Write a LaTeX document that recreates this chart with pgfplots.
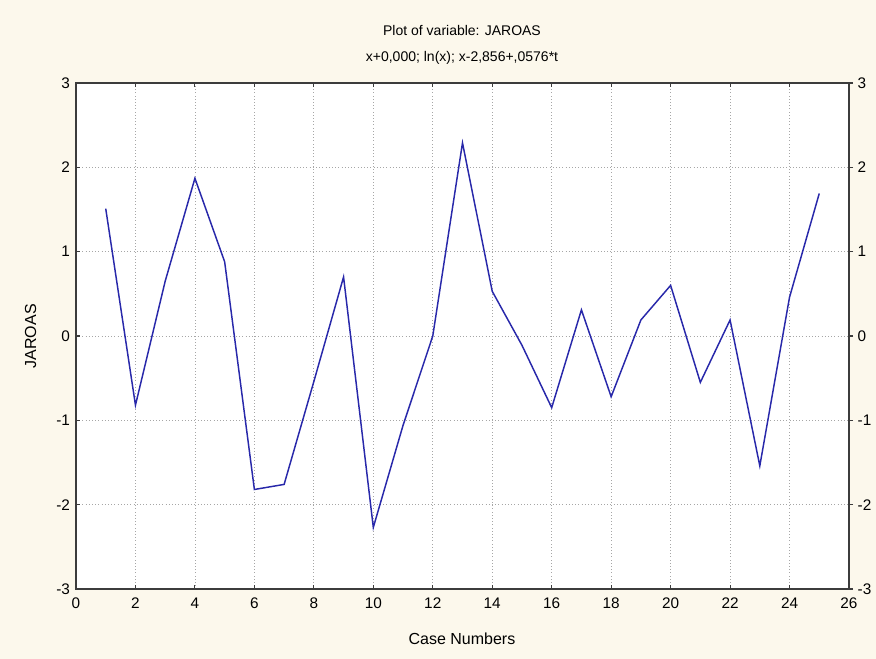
\documentclass[border=0pt]{standalone}
\usepackage{pgfplots}
\pgfplotsset{compat=1.18}
\usepackage{fontspec}
\setmainfont{Liberation Sans}
\definecolor{paper}{RGB}{252,248,236}
\definecolor{lineblue}{RGB}{40,40,170}
\definecolor{frame}{RGB}{60,60,60}

\pgfplotstableread{
case val
1 1.51
2 -0.82
3 0.65
4 1.87
5 0.88
6 -1.82
7 -1.76
8 -0.54
9 0.70
10 -2.27
11 -1.06
12 0.00
13 2.29
14 0.53
15 -0.11
16 -0.85
17 0.31
18 -0.72
19 0.19
20 0.60
21 -0.55
22 0.19
23 -1.54
24 0.46
25 1.69
}\jaroas

\begin{document}
\begin{tikzpicture}
\fill[paper] (0pt,0pt) rectangle (657pt,494.25pt);
\useasboundingbox (0pt,0pt) rectangle (657pt,494.25pt);
\pgfplotsset{
  base/.style={
    scale only axis,
    width=579.75pt, height=379.5pt,
    at={(57pt,52.5pt)}, anchor=south west,
    xmin=0, xmax=26, ymin=-3, ymax=3,
    xtick={0,2,...,26}, ytick={-3,...,3},
    tick label style={font=\fontsize{11.5}{13}\selectfont},
    /pgf/number format/assume math mode=true,
    major tick length=3pt,
    axis line style={frame, line width=1.1pt},
    tick style={frame, line width=0.8pt},
  }
}
\begin{axis}[base,
  axis background/.style={fill=white},
  tick align=inside,
  xtick pos=both, ytick pos=left,
  grid=major,
  major grid style={gray!70, dotted, line width=0.6pt},
  xticklabel style={yshift=-3pt},
  yticklabel style={xshift=-1pt},
]
\addplot[lineblue, line width=1.1pt, mark=none] table[x=case, y=val] {\jaroas};
\end{axis}
\begin{axis}[base,
  axis y line*=right, axis x line=none,
  tick align=outside,
]
\addplot[draw=none] coordinates {(0,0)};
\end{axis}
\node[font=\fontsize{10.5}{12}\selectfont] at (346.5pt,471.5pt) {Plot of variable: JAROAS};
\node[font=\fontsize{10.5}{12}\selectfont] at (346.5pt,451pt) {x+0,000; ln(x); x-2,856+,0576*t};
\node[font=\fontsize{12}{14}\selectfont] at (346.5pt,15.5pt) {Case Numbers};
\node[font=\fontsize{12}{14}\selectfont, rotate=90] at (23pt,242pt) {JAROAS};
\end{tikzpicture}
\end{document}
